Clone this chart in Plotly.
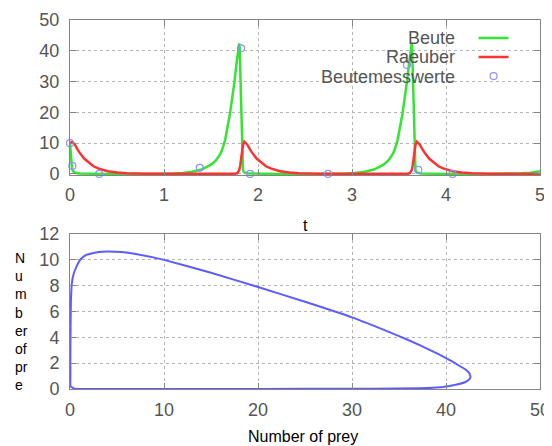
import plotly.graph_objects as go

# ---- time series ----
t_beute = [0, 0.005, 0.01, 0.02, 0.03, 0.05, 0.1, 0.2, 0.4, 0.6, 0.8, 0.9, 1.0, 1.1, 1.2, 1.3, 1.4,
           1.5, 1.55, 1.6, 1.62, 1.65, 1.7, 1.73, 1.75, 1.77, 1.79, 1.8, 1.805, 1.81, 1.815, 1.82,
           1.825, 1.83, 1.835, 1.84, 1.85, 1.87, 1.9, 2.0, 2.2, 2.5, 2.735, 2.835, 2.935, 3.035,
           3.135, 3.235, 3.335, 3.385, 3.435, 3.455, 3.485, 3.535, 3.565, 3.585, 3.605, 3.625,
           3.635, 3.64, 3.645, 3.65, 3.655, 3.66, 3.665, 3.67, 3.675, 3.685, 3.705, 3.735, 3.835,
           4.035, 4.4, 4.6, 4.7, 4.8, 4.9, 5.0]
beute = [10, 7, 4.5, 2.2, 1.0, 0.4, 0.12, 0.04, 0.02, 0.02, 0.03, 0.04, 0.08, 0.16, 0.34, 0.7, 1.45,
         3.0, 4.3, 6.5, 8.0, 11.0, 19.2, 25, 30, 35.5, 41, 42.4, 41, 35, 26, 17,
         10, 5, 2.5, 1.2, 0.6, 0.3, 0.15, 0.05, 0.02, 0.02, 0.04, 0.08, 0.16, 0.34,
         0.7, 1.45, 3.0, 4.3, 6.5, 8.0, 11.0, 19.2, 25, 30, 35.5, 41,
         42.4, 41, 35, 26, 17, 10, 5, 2.5, 1.2, 0.6, 0.3, 0.15, 0.05,
         0.02, 0.02, 0.05, 0.1, 0.2, 0.42, 0.9]

t_raeuber = [0, 0.01, 0.02, 0.03, 0.05, 0.08, 0.1, 0.15, 0.2, 0.25, 0.3, 0.35, 0.4, 0.5, 0.6, 0.8,
             1.1, 1.7, 1.76, 1.78, 1.79, 1.8, 1.81, 1.82, 1.83, 1.84, 1.855, 1.885, 1.915, 1.935,
             1.985, 2.035, 2.085, 2.135, 2.185, 2.235, 2.335, 2.435, 2.635, 2.935, 3.5, 3.595,
             3.615, 3.625, 3.635, 3.645, 3.655, 3.665, 3.675, 3.69, 3.72, 3.75, 3.77, 3.82, 3.87,
             3.92, 3.97, 4.02, 4.07, 4.17, 4.27, 4.47, 4.77, 5.0]
raeuber = [10.0, 10.3, 10.4, 10.3, 9.6, 8.0, 7.0, 5.0, 3.6, 2.5, 1.8, 1.3, 0.9, 0.45, 0.22, 0.06,
           0.015, 0.02, 0.08, 0.25, 0.6, 1.2, 2.6, 4.8, 7.3, 9.4, 10.5, 9.6, 8.0, 7.0,
           5.0, 3.6, 2.5, 1.8, 1.3, 0.9, 0.45, 0.22, 0.06, 0.015, 0.01, 0.08,
           0.25, 0.6, 1.2, 2.6, 4.8, 7.3, 9.4, 10.5, 9.6, 8.0, 7.0, 5.0, 3.6,
           2.5, 1.8, 1.3, 0.9, 0.45, 0.22, 0.06, 0.015, 0.01]

t_mess = [0, 0.025, 0.31, 1.38, 1.82, 1.915, 2.745, 3.585, 3.705, 4.07]
beutemesswerte = [10, 2.6, 0, 2, 40.8, 0, 0, 35.4, 1.3, 0]

# ---- phase plot (prey vs predator) ----
phase_beute = [10, 7, 5.5, 4.0, 3.0, 1.8, 1.2, 0.7, 0.35, 0.2, 0.1, 0.07, 0.05, 0.04, 0.04, 0.06,
               0.5, 5, 15, 25, 32, 37.2, 39.4, 40.8, 41.4, 42.0, 42.4, 42.6, 42.55, 42.4, 42.0,
               41.4, 40.6, 39.2, 37.2, 35, 30, 25, 20, 15, 10]
phase_raeuber = [10, 10.45, 10.6, 10.65, 10.6, 10.4, 10.1, 9.5, 8.8, 8.2, 6.9, 5.5, 4, 2.5, 1, 0.2,
                 0.02, 0.005, 0.005, 0.01, 0.02, 0.05, 0.13, 0.3, 0.38, 0.52, 0.7, 0.9, 1.1, 1.3,
                 1.55, 1.8, 2.15, 2.7, 3.4, 4.1, 5.55, 6.75, 7.9, 9.0, 10]

legend_labels = ["Beute", "Raeuber", "Beutemesswerte"]
x1_ticks = [0, 1, 2, 3, 4, 5]
y1_ticks = [0, 10, 20, 30, 40, 50]
x2_ticks = [0, 10, 20, 30, 40, 50]
y2_ticks = [0, 2, 4, 6, 8, 10, 12]

GREEN = "#33e433"
RED = "#ff3232"
BLUE = "#5c5cff"
MARK = "#8f8fff"
TICKC = "#555555"
FONT = "Liberation Sans, Arial, sans-serif"

fig = go.Figure()
fig.add_trace(go.Scatter(x=t_beute, y=beute, mode="lines", name="",
                         line=dict(color=GREEN, width=2.5), xaxis="x", yaxis="y"))
fig.add_trace(go.Scatter(x=t_raeuber, y=raeuber, mode="lines", name="",
                         line=dict(color=RED, width=2.5), xaxis="x", yaxis="y"))
fig.add_trace(go.Scatter(x=t_mess, y=beutemesswerte, mode="markers", name="",
                         marker=dict(symbol="circle-open", size=7, color=MARK,
                                     line=dict(width=1.2, color=MARK)),
                         cliponaxis=False, xaxis="x", yaxis="y"))
fig.add_trace(go.Scatter(x=phase_beute, y=phase_raeuber, mode="lines", showlegend=False,
                         line=dict(color=BLUE, width=2, shape="spline", smoothing=0.3),
                         xaxis="x2", yaxis="y2"))

axis_style = dict(showline=True, linecolor="#858585", linewidth=1, mirror="ticks",
                  ticks="inside", ticklen=6, tickcolor="#858585", tickwidth=1,
                  showgrid=True, gridcolor="#b4b4b4", griddash="dot", gridwidth=1,
                  zeroline=False, automargin=False,
                  tickfont=dict(family=FONT, size=18, color=TICKC))

# the page body adds an 8px offset, so the figure is 8px smaller and margins are shifted
fig.update_layout(
    width=544, height=438, autosize=False,
    margin=dict(l=62, r=12, t=12, b=57),
    paper_bgcolor="white", plot_bgcolor="white",
    xaxis=dict(domain=[0, 1], range=[0, 5], tickvals=x1_ticks, anchor="y",
               ticklabelstandoff=3, **axis_style),
    yaxis=dict(domain=[0.5794, 1], range=[-0.4, 50], tickvals=y1_ticks, anchor="x",
               ticklabelstandoff=6, **axis_style),
    xaxis2=dict(domain=[0, 1], range=[0, 50], tickvals=x2_ticks, anchor="y2",
                ticklabelstandoff=4, **axis_style),
    yaxis2=dict(domain=[0, 0.42], range=[0, 12], tickvals=y2_ticks, anchor="x2",
                ticklabelstandoff=6, **axis_style),
    showlegend=True,
    legend=dict(x=0.8587, y=0.9902, xanchor="left", yanchor="top",
                bgcolor="rgba(0,0,0,0)", borderwidth=0, tracegroupgap=0,
                font=dict(family=FONT, size=12, color=TICKC)),
    annotations=[
        dict(text="t", x=0.5, y=0.4444, xref="paper", yref="paper", showarrow=False,
             xanchor="center", yanchor="middle", font=dict(family=FONT, size=16, color="black")),
        dict(text="Number of prey", x=0.496, y=-0.130, xref="paper", yref="paper",
             showarrow=False, xanchor="center", yanchor="middle",
             font=dict(family=FONT, size=16, color="black")),
        dict(text="N<br>u<br>m<br>b<br>er<br>of<br>pr<br>e", x=-0.1213, y=0.1816,
             xref="paper", yref="paper", showarrow=False, xanchor="left", yanchor="middle",
             align="left", font=dict(family=FONT, size=14, color="black")),
        dict(text=legend_labels[0], x=0.8234, y=0.9504, xref="paper", yref="paper",
             showarrow=False, xanchor="right", yanchor="middle",
             font=dict(family=FONT, size=18, color=TICKC)),
        dict(text=legend_labels[1], x=0.8234, y=0.8989, xref="paper", yref="paper",
             showarrow=False, xanchor="right", yanchor="middle",
             font=dict(family=FONT, size=18, color=TICKC)),
        dict(text=legend_labels[2], x=0.8234, y=0.8463, xref="paper", yref="paper",
             showarrow=False, xanchor="right", yanchor="middle",
             font=dict(family=FONT, size=18, color=TICKC)),
    ],
)

fig.write_html("out.html")
